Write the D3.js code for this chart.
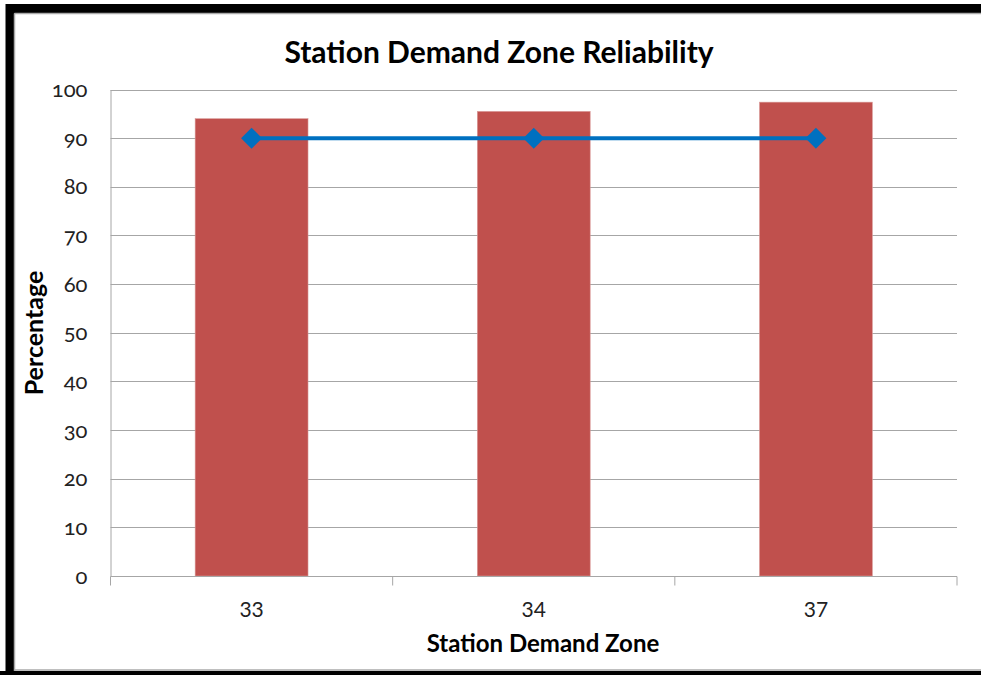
<!DOCTYPE html>
<html><head><meta charset="utf-8">
<script src="https://cdn.jsdelivr.net/npm/d3@7"></script>
<style>
html,body{margin:0;padding:0;background:#fff;}
svg text{font-family:Lato,"Open Sans",sans-serif;}
</style></head>
<body>
<svg id="chart" width="981" height="675"></svg>
<script>
const categories = ["33", "34", "37"];
const reliability = [94.0, 95.5, 97.4];
const target = [90, 90, 90];
const yTicks = [0, 10, 20, 30, 40, 50, 60, 70, 80, 90, 100];
const titleText = "Station Demand Zone Reliability";
const xTitle = "Station Demand Zone";
const yTitle = "Percentage";

const svg = d3.select("#chart");

// frame
svg.append("rect").attr("x", 0).attr("y", 0).attr("width", 981).attr("height", 675).attr("fill", "#fff");
svg.append("rect").attr("x", 10).attr("y", 8.5).attr("width", 1000).attr("height", 667).attr("fill", "none").attr("stroke", "#000").attr("stroke-width", 9);
svg.append("line").attr("x1", 14.5).attr("x2", 981).attr("y1", 13.5).attr("y2", 13.5).attr("stroke", "#aaa").attr("stroke-width", 1.5);
svg.append("line").attr("x1", 14.5).attr("x2", 14.5).attr("y1", 13.5).attr("y2", 671).attr("stroke", "#aaa").attr("stroke-width", 1.5);
svg.append("line").attr("x1", 14.5).attr("x2", 981).attr("y1", 670).attr("y2", 670).attr("stroke", "#aaa").attr("stroke-width", 1.5);
svg.append("rect").attr("x", 0).attr("y", 671).attr("width", 981).attr("height", 4).attr("fill", "#000");

const pLeft = 110.5, pRight = 957, pTop = 89.5, pBottom = 576;
const x = d3.scaleBand().domain(categories).range([pLeft, pRight]).paddingInner(0.6).paddingOuter(0.3);
const xc = d3.scaleBand().domain(categories).range([pLeft, pRight]);
const y = d3.scaleLinear().domain([0, 100]).range([pBottom, pTop]);

// gridlines
svg.append("g").selectAll("line").data(yTicks.filter(d => d > 0)).join("line")
  .attr("x1", pLeft).attr("x2", pRight).attr("y1", d => Math.round(y(d)) + 0.5).attr("y2", d => Math.round(y(d)) + 0.5)
  .attr("stroke", "#a6a6a6").attr("stroke-width", 1);

// bars
svg.append("g").selectAll("rect").data(reliability).join("rect")
  .attr("x", (d, i) => x(categories[i])).attr("width", x.bandwidth())
  .attr("y", d => y(d)).attr("height", d => y(0) - y(d))
  .attr("fill", "#c0504d").attr("stroke", "#d99a98").attr("stroke-width", 0.6);

// y axis
const yAxis = d3.axisLeft(y).tickValues(yTicks).tickSize(0).tickPadding(23);
const gy = svg.append("g").attr("transform", `translate(${pLeft},0)`).call(yAxis);
gy.select(".domain").attr("stroke", "#a6a6a6");
gy.selectAll("text").attr("font-size", 22).attr("fill", "#222").style("font-variant-numeric", "oldstyle-nums");

// x axis
const xAxis = d3.axisBottom(xc).tickSize(0).tickPadding(26);
const gx = svg.append("g").attr("transform", `translate(0,${pBottom + 0.5})`).call(xAxis);
gx.select(".domain").attr("stroke", "#a6a6a6").attr("d", `M${pLeft},0H${pRight}`);
gx.selectAll("text").attr("font-size", 21).attr("fill", "#222");
const bounds = [pLeft].concat(categories.map(c => xc(c) + xc.bandwidth()));
gx.append("g").selectAll("line").data(bounds).join("line")
  .attr("x1", d => d).attr("x2", d => d).attr("y1", 0).attr("y2", 9).attr("stroke", "#a6a6a6");

// target line
const line = d3.line().x((d, i) => xc(categories[i]) + xc.bandwidth() / 2).y(d => y(d));
svg.append("path").datum(target).attr("d", line).attr("fill", "none").attr("stroke", "#0070c0").attr("stroke-width", 4);
svg.append("g").selectAll("path").data(target).join("path")
  .attr("d", d3.symbol().type(d3.symbolSquare).size(220))
  .attr("transform", (d, i) => `translate(${xc(categories[i]) + xc.bandwidth() / 2},${y(d)}) rotate(45)`)
  .attr("fill", "#0070c0");

// titles
svg.append("text").attr("x", 499).attr("y", 63).attr("text-anchor", "middle")
  .attr("font-size", 30).attr("font-weight", "bold").attr("fill", "#000").text(titleText);
svg.append("text").attr("x", 543).attr("y", 652).attr("text-anchor", "middle")
  .attr("font-size", 24).attr("font-weight", "bold").attr("fill", "#000").text(xTitle);
svg.append("text").attr("transform", "translate(43,333) rotate(-90)").attr("text-anchor", "middle")
  .attr("font-size", 25).attr("font-weight", "bold").attr("fill", "#000").text(yTitle);
</script>
</body></html>
